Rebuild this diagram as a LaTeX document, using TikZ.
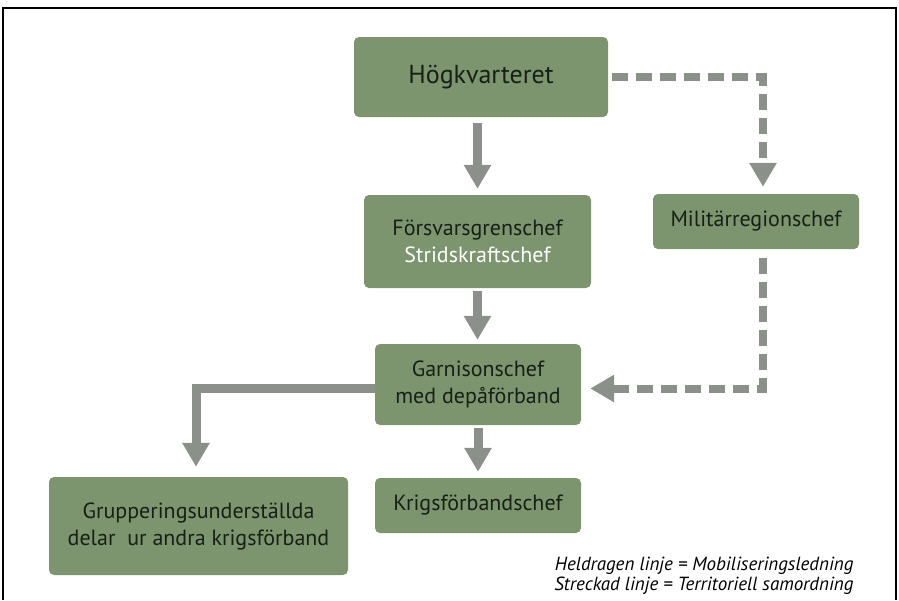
\documentclass[tikz,border=0pt]{standalone}
\usepackage{fontspec}
\setmainfont{PT Sans}
\usepackage{tikz}
\usetikzlibrary{arrows.meta,calc,positioning}
\definecolor{Mossa}{RGB}{124,149,110}
\definecolor{Grafit}{RGB}{140,144,138}
\definecolor{Text}{RGB}{22,32,22}

\begin{document}
\begin{tikzpicture}[x=1pt,y=-1pt,
  ruta/.style={fill=Mossa,rounded corners=5pt,align=center,inner sep=0pt,text=Text,font=\fontsize{22}{27}\selectfont},
  heldragen/.style={Grafit,line width=9pt,-{Triangle[width=26pt,length=24pt]}},
  streckad/.style={Grafit,line width=8pt,dash pattern=on 16pt off 8pt,-{Triangle[width=26pt,length=24pt]}}]
\useasboundingbox (0,0) rectangle (899,600);
\draw[line width=2.5pt] (3,600) -- (3,8) -- (896,8) -- (896,600);
%
% rutor
\node[ruta,minimum width=254,minimum height=80,font=\fontsize{26}{30}\selectfont] (hkv) at (481,77) {Högkvarteret};
\node[ruta,minimum width=227,minimum height=93] (fgc) at (477.5,241.5) {Försvarsgrenschef\\\textcolor{white}{Stridskraftschef}};
\node[ruta,minimum width=206,minimum height=55] (mrc) at (756,221.5) {Militärregionschef};
\node[ruta,minimum width=206,minimum height=81] (gar) at (478,384.5) {Garnisonschef\\med depåförband};
\node[ruta,minimum width=206,minimum height=55] (kfc) at (478,505.5) {Krigsförbandschef};
\node[ruta,minimum width=299,minimum height=98] (grp) at (198.5,526) {Grupperingsunderställda\\delar\ \ ur andra krigsförband};
%
% pilar
\draw[heldragen,shorten <=6pt,shorten >=6pt] (hkv.south -| fgc.north) -- (fgc.north);
\draw[heldragen,shorten <=3pt,shorten >=4pt] (fgc.south) -- (fgc.south |- gar.north);
\draw[heldragen,shorten <=3pt,shorten >=6pt] (gar.south) -- (kfc.north);
\draw[heldragen,shorten >=10pt] ([yshift=-4pt]gar.west) -| ([xshift=-2.5pt]grp.north);
\draw[streckad,shorten <=4pt,shorten >=7pt] (hkv.east) -| ([xshift=7pt]mrc.north);
\draw[streckad,shorten <=9pt,shorten >=9pt] ([xshift=7pt]mrc.south) |- ([yshift=-4pt]gar.east);
%
\node[anchor=base east,align=right,font=\itshape\fontsize{19}{20}\selectfont] (legend) at (857,590) {Heldragen linje = Mobiliseringsledning\\Streckad linje = Territoriell samordning};
\end{tikzpicture}
\end{document}
